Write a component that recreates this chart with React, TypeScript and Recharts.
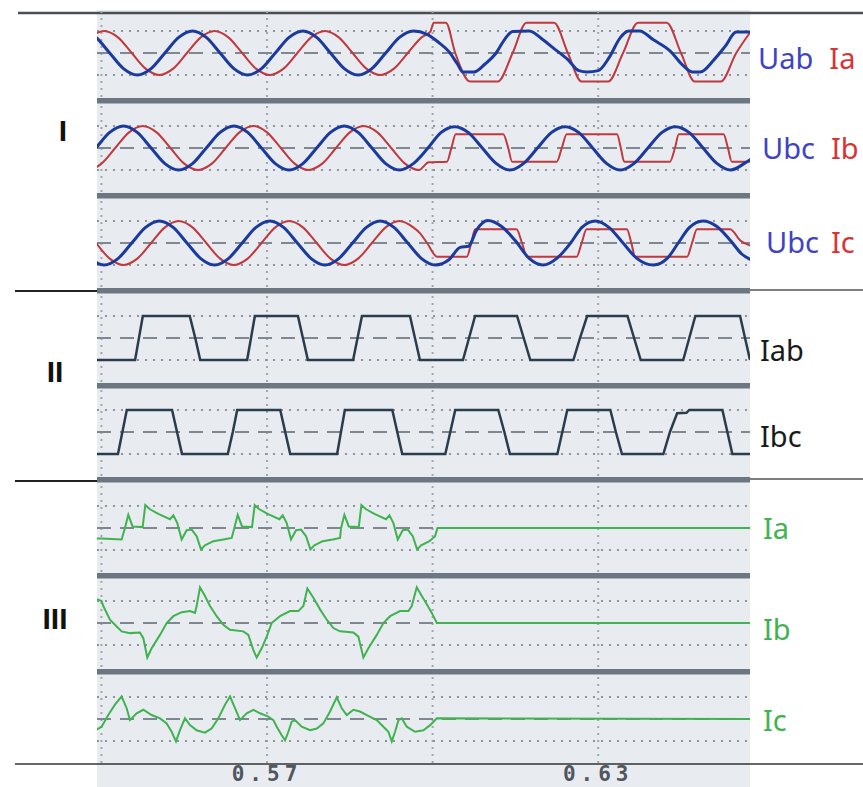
import { LineChart, Line, XAxis, YAxis, ReferenceLine } from "recharts";

// time in ms, values in per-unit (±1 = dotted grid line)
const T_DOMAIN: [number, number] = [539.2, 657.5];
const GRID_T = [540, 570, 600, 630];
const AXIS_TICKS = [570, 630];

type Pt = [number, number];

// ---- panel I ----
const uab: Pt[] = [
  [536.5, 1], [539, 0.71], [541.5, 0], [544, -0.71], [546.5, -1], [549, -0.71], [551.5, 0], [554, 0.71],
  [556.5, 1], [559, 0.71], [561.5, 0], [564, -0.71], [566.5, -1], [569, -0.71], [571.5, 0], [574, 0.71],
  [576.5, 1], [579, 0.71], [581.5, 0], [584, -0.71], [586.5, -1], [589, -0.71], [591.5, 0], [594, 0.71],
  [596.5, 1], [599, 0.85], [601, 0.5], [603, 0.05], [604.5, -0.5], [605.5, -0.86], [607.5, -0.86],
  [609.5, -0.5], [611.5, 0], [613, 0.6], [614.5, 0.98], [617.5, 1], [620, 0.6], [622, 0.2], [624.5, -0.3],
  [626.5, -0.8], [628, -0.86], [630, -0.8], [632, -0.2], [634, 0.7], [635.5, 1], [637.5, 1], [640, 0.6],
  [643, 0.1], [645.5, -0.6], [647, -0.86], [648.5, -0.86], [651, -0.3], [653, 0.3], [655, 0.95], [658, 0.95],
];
const iaI: Pt[] = [
  [535.5, 0], [538, 0.71], [540.5, 1], [543, 0.71], [545.5, 0], [548, -0.71], [550.5, -1], [553, -0.71],
  [555.5, 0], [558, 0.71], [560.5, 1], [563, 0.71], [565.5, 0], [568, -0.71], [570.5, -1], [573, -0.71],
  [575.5, 0], [578, 0.71], [580.5, 1], [583, 0.71], [585.5, 0], [588, -0.71], [590.5, -1], [593, -0.71],
  [595.5, 0], [598, 0.71], [599.6, 0.97], [600.2, 1.38], [602.4, 1.38], [604.1, 0], [606.8, -1.3],
  [611.8, -1.3], [614.5, 0], [617, 1.38], [622, 1.38], [624.5, 0], [627, -1.3], [631.8, -1.3], [634.5, 0],
  [637.2, 1.38], [642.4, 1.38], [645, 0], [647.5, -1.3], [652.2, -1.3], [655, 0], [658, 1.1],
];
const ubc: Pt[] = [
  [536.5, -0.71], [539, 0], [541.5, 0.71], [544, 1], [546.5, 0.71], [549, 0], [551.5, -0.71], [554, -1],
  [556.5, -0.71], [559, 0], [561.5, 0.71], [564, 1], [566.5, 0.71], [569, 0], [571.5, -0.71], [574, -1],
  [576.5, -0.71], [579, 0], [581.5, 0.71], [584, 1], [586.5, 0.71], [589, 0], [591.5, -0.71], [594, -1],
  [596.5, -0.71], [599, -0.05], [601.5, 0.7], [604, 0.97], [606.5, 0.7], [609, 0], [611.5, -0.7], [614, -1],
  [616.5, -0.7], [619, 0], [621.5, 0.7], [624, 0.97], [626.5, 0.7], [629, 0], [631.5, -0.7], [634, -1],
  [636.5, -0.7], [639, 0], [641.5, 0.7], [644, 0.97], [646.5, 0.7], [649, 0], [651.5, -0.7], [654, -1],
  [656.5, -0.7], [658, -0.45],
];
const ibI: Pt[] = [
  [535, -0.71], [537.5, -1], [540, -0.71], [542.5, 0], [545, 0.71], [547.5, 1], [550, 0.71], [552.5, 0],
  [555, -0.71], [557.5, -1], [560, -0.71], [562.5, 0], [565, 0.71], [567.5, 1], [570, 0.71], [572.5, 0],
  [575, -0.71], [577.5, -1], [580, -0.71], [582.5, 0], [585, 0.71], [587.5, 1], [590, 0.71], [592.5, 0],
  [595, -0.71], [597.5, -1], [599.3, -0.65], [602.6, -0.62], [603.4, 0], [604.2, 0.62], [612.8, 0.62],
  [613.7, 0], [614.4, -0.62], [622.5, -0.62], [623.4, 0], [624.3, 0.62], [633.4, 0.62], [634.1, 0],
  [634.7, -0.62], [643, -0.62], [643.9, 0], [644.6, 0.62], [652.7, 0.62], [653.5, 0], [654.2, -0.62],
  [658, -0.62],
];
const ubc3: Pt[] = [
  [535.5, 0], [538, -0.71], [540.5, -1], [543, -0.71], [545.5, 0], [548, 0.71], [550.5, 1], [553, 0.71],
  [555.5, 0], [558, -0.71], [560.5, -1], [563, -0.71], [565.5, 0], [568, 0.71], [570.5, 1], [573, 0.71],
  [575.5, 0], [578, -0.71], [580.5, -1], [583, -0.71], [585.5, 0], [588, 0.71], [590.5, 1], [593, 0.71],
  [595.5, 0], [598, -0.71], [600.5, -1], [603, -0.75], [605, -0.2], [606.5, -0.15], [608, 0.6], [610, 1.02],
  [612.5, 0.75], [615, 0.1], [617.5, -0.7], [620, -1], [622.5, -0.7], [625, 0], [627, 0.7], [629.5, 1],
  [632, 0.7], [634.5, 0], [637, -0.7], [640, -1], [642.5, -0.7], [644.5, 0], [646.5, 0.7], [649, 1],
  [651.5, 0.75], [654, 0.1], [656, -0.5], [658, -0.8],
];
const icI: Pt[] = [
  [534, 1], [536.5, 0.71], [539, 0], [541.5, -0.71], [544, -1], [546.5, -0.71], [549, 0], [551.5, 0.71],
  [554, 1], [556.5, 0.71], [559, 0], [561.5, -0.71], [564, -1], [566.5, -0.71], [569, 0], [571.5, 0.71],
  [574, 1], [576.5, 0.71], [579, 0], [581.5, -0.71], [584, -1], [586.5, -0.71], [589, 0], [591.5, 0.71],
  [594, 1], [596.5, 0.71], [597.7, 0.45], [599, 0], [600.8, -0.62], [606.2, -0.62], [607, 0], [607.7, 0.62],
  [615.2, 0.62], [616.2, 0], [617.1, -0.62], [626.1, -0.62], [627, 0], [627.9, 0.62], [635.2, 0.62],
  [636, 0], [636.7, -0.62], [646.1, -0.62], [647, 0], [647.9, 0.62], [653.9, 0.62], [655.8, 0.1],
  [658, -0.15],
];

// ---- panel II ----
const iab: Pt[] = [
  [539, -1], [546.1, -1], [546.8, 0], [547.5, 1], [556, 1], [557, 0], [557.9, -1], [566.4, -1], [567.1, 0],
  [567.8, 1], [575.6, 1], [576.5, 0], [577.4, -1], [585.6, -1], [586.4, 0], [587.2, 1], [595.9, 1],
  [596.8, 0], [597.7, -1], [605.5, -1], [606.6, 0], [607.7, 1], [615.3, 1], [616.5, 0], [617.7, -1],
  [625.5, -1], [626.7, 0], [628, 1], [635.3, 1], [636.5, 0], [637.7, -1], [645.4, -1], [646.5, 0],
  [647.6, 1], [655.7, 1], [656.6, 0], [657.5, -1],
];
const ibc: Pt[] = [
  [539, -1], [543, -1], [543.8, 0], [544.6, 1], [552.8, 1], [553.7, 0], [554.6, -1], [562.9, -1],
  [563.8, 0], [564.6, 1], [572.4, 1], [573.3, 0], [574.2, -1], [582.7, -1], [583.4, 0], [584.1, 1],
  [592.7, 1], [593.6, 0], [594.5, -1], [602.3, -1], [603.2, 0], [604.1, 1], [611.9, 1], [613, 0],
  [614, -1], [622.6, -1], [623.5, 0], [624.4, 1], [632.2, 1], [633.2, 0], [634.3, -1], [641.8, -1],
  [643, 0], [644.3, 0.85], [646, 0.87], [646.5, 1], [652.5, 1], [653.4, 0], [654.3, -1], [657.5, -1],
];

// ---- panel III ----
const iaIII: Pt[] = [
  [539, -0.48], [540.03, -0.48], [543.66, -0.52], [544.26, 0], [544.87, 0.6], [545.65, 0.07], [547.47, 0.04],
  [547.95, 1.04], [548.8, 0.85], [550.31, 0.64], [552.42, 0.4], [553.03, 0.58], [553.75, 0.22],
  [554.54, -0.52], [555.44, -0.1], [556.35, -0.07], [557.25, -0.37], [558.04, -0.97], [558.76, -0.79],
  [560.28, -0.6], [562.09, -0.52], [563.6, -0.45], [564.08, 0], [564.69, 0.6], [565.47, 0.07],
  [567.28, 0.04], [567.77, 1.04], [568.61, 0.85], [570.12, 0.64], [572.24, 0.4], [572.84, 0.58],
  [573.57, 0.22], [574.35, -0.52], [575.26, -0.1], [576.16, -0.07], [577.07, -0.37], [577.86, -0.97],
  [578.58, -0.79], [580.09, -0.6], [581.9, -0.52], [583.23, -0.45], [583.42, 0], [584.02, 0.6],
  [584.81, 0.07], [586.62, 0.04], [587.1, 1.04], [587.95, 0.85], [589.46, 0.64], [591.57, 0.4],
  [592.18, 0.58], [592.9, 0.22], [593.69, -0.52], [594.59, -0.1], [595.5, -0.07], [596.41, -0.37],
  [597.19, -0.97], [597.92, -0.79], [599.43, -0.6], [600.45, -0.37], [600.88, 0], [658, 0],
];
const ibIII: Pt[] = [
  [539, 1.1], [540.03, 1.0], [540.34, 0.77], [541.55, 0.15], [542.45, -0.08], [543.66, -0.38],
  [545.17, -0.46], [546.98, -0.43], [547.59, -0.69], [548.31, -1.57], [549.1, -1.15], [550.61, -0.54],
  [551.82, 0], [553.03, 0.31], [554.54, 0.49], [556.05, 0.54], [556.95, 0.46], [557.25, 0.77],
  [557.86, 1.62], [558.76, 1.23], [559.67, 0.77], [560.88, 0.31], [562.09, -0.08], [563.3, -0.31],
  [565.71, -0.38], [566.62, -0.54], [567.53, -1.23], [568.13, -1.57], [569.04, -1.15], [569.94, -0.62],
  [570.85, 0], [572.36, 0.31], [574.17, 0.54], [575.68, 0.54], [576.59, 0.77], [577.31, 1.57],
  [578.4, 1.15], [579.61, 0.62], [580.82, 0.15], [582.03, -0.23], [583.23, -0.38], [585.65, -0.43],
  [586.55, -0.62], [587.46, -1.57], [588.37, -1.15], [589.88, -0.54], [591.09, 0], [592.3, 0.31],
  [594.11, 0.54], [595.62, 0.54], [596.22, 0.77], [597.13, 1.62], [598.04, 1.23], [598.95, 0.85],
  [599.85, 0.46], [600.76, 0], [658, 0],
];
const icIII: Pt[] = [
  [539, -0.5], [540.03, -0.35], [541.24, 0.18], [542.45, 0.65], [543.66, 1.03], [544.57, 0.49],
  [545.17, -0.05], [546.38, 0.26], [547.59, 0.42], [549.1, 0.18], [550.61, 0.03], [551.82, -0.2],
  [552.72, -0.58], [553.51, -1.02], [554.23, -0.51], [555.14, 0.03], [556.05, -0.28], [557.25, -0.51],
  [558.76, -0.62], [559.97, -0.43], [561.18, 0.03], [562.39, 0.65], [563.3, 1.03], [564.2, 0.49],
  [565.11, -0.05], [566.32, 0.26], [567.53, 0.42], [568.73, 0.26], [570.24, 0.11], [571.15, -0.05],
  [571.76, -0.35], [572.66, -0.74], [573.27, -0.97], [573.87, -0.58], [574.47, -0.12], [575.08, -0.05],
  [576.29, -0.35], [577.8, -0.51], [579.01, -0.43], [580.21, -0.2], [581.42, 0.34], [582.63, 0.98],
  [583.54, 0.49], [584.45, 0.18], [585.65, 0.42], [586.86, 0.34], [588.07, 0.18], [589.88, -0.05],
  [591.09, -0.35], [591.99, -0.58], [592.6, -1.02], [593.2, -0.58], [593.81, -0.05], [594.41, 0.03],
  [595.32, -0.35], [596.83, -0.58], [598.34, -0.51], [599.55, -0.28], [600.76, 0.03], [658, 0],
];

const BLUE = "#1b3a9e";
const RED = "#c0393f";
const SLATE = "#2b3c4c";
const GREEN = "#3fb34f";

type Trace = { key: string; points: Pt[]; color: string; width: number; curve: "monotone" | "linear" };

const channels: { center: number; traces: Trace[] }[] = [
  { center: 53, traces: [
    { key: "ia", points: iaI, color: RED, width: 2, curve: "monotone" },
    { key: "uab", points: uab, color: BLUE, width: 3, curve: "monotone" },
  ] },
  { center: 148, traces: [
    { key: "ib", points: ibI, color: RED, width: 2, curve: "monotone" },
    { key: "ubc", points: ubc, color: BLUE, width: 3, curve: "monotone" },
  ] },
  { center: 243, traces: [
    { key: "ic", points: icI, color: RED, width: 2, curve: "monotone" },
    { key: "ubc3", points: ubc3, color: BLUE, width: 3, curve: "monotone" },
  ] },
  { center: 338, traces: [{ key: "iab", points: iab, color: SLATE, width: 2.5, curve: "linear" }] },
  { center: 432, traces: [{ key: "ibc", points: ibc, color: SLATE, width: 2.5, curve: "linear" }] },
  { center: 528, traces: [{ key: "ia3", points: iaIII, color: GREEN, width: 2, curve: "linear" }] },
  { center: 623, traces: [{ key: "ib3", points: ibIII, color: GREEN, width: 2, curve: "linear" }] },
  { center: 719, traces: [{ key: "ic3", points: icIII, color: GREEN, width: 2, curve: "linear" }] },
];

const PLOT_X = 97;
const PLOT_W = 653;
const HALF = 44;

function buildRows(traces: Trace[]) {
  const rows: Record<string, number>[] = [];
  traces.forEach((tr) => tr.points.forEach(([t, v]) => rows.push({ t, [tr.key]: v })));
  rows.sort((a, b) => a.t - b.t);
  return rows;
}

function Channel({ center, traces, showAxis }: { center: number; traces: Trace[]; showAxis: boolean }) {
  const h = HALF * 2 + (showAxis ? 24 : 0);
  return (
    <div style={{ position: "absolute", left: PLOT_X, top: center - HALF, width: PLOT_W, height: h }}>
      <LineChart width={PLOT_W} height={h} data={buildRows(traces)} margin={{ top: 0, right: 0, bottom: 0, left: 0 }}>
        <XAxis
          dataKey="t"
          type="number"
          domain={T_DOMAIN}
          allowDataOverflow
          hide={!showAxis}
          ticks={AXIS_TICKS}
          interval={0}
          height={24}
          axisLine={false}
          tickLine={false}
          tickSize={0}
          tickMargin={3}
          tickFormatter={(v: number) => (v / 1000).toFixed(2)}
          tick={{ fontFamily: "DejaVu Sans Mono", fontSize: 21, fontWeight: "bold", fill: "#50565d", letterSpacing: 5 }}
        />
        <YAxis hide domain={[-2, 2]} allowDataOverflow />
        {GRID_T.map((t) => (
          <ReferenceLine key={t} x={t} stroke="#a0a7ae" strokeWidth={2} strokeDasharray="2 5" />
        ))}
        <ReferenceLine y={1} stroke="#8c939b" strokeWidth={2} strokeDasharray="2 6" />
        <ReferenceLine y={-1} stroke="#8c939b" strokeWidth={2} strokeDasharray="2 6" />
        <ReferenceLine y={0} stroke="#7f8890" strokeWidth={2} strokeDasharray="14 9" />
        {traces.map((tr) => (
          <Line
            key={tr.key}
            dataKey={tr.key}
            type={tr.curve}
            stroke={tr.color}
            strokeWidth={tr.width}
            dot={false}
            connectNulls
            isAnimationActive={false}
          />
        ))}
      </LineChart>
    </div>
  );
}

const BARS = [98, 193, 288, 383, 477, 573, 669];

const rightLabels = [
  { x: 758, y: 69, gap: 16, parts: [["Uab", "#4043c4"], ["Ia", "#d93434"]] },
  { x: 762, y: 159, gap: 16, parts: [["Ubc", "#4043c4"], ["Ib", "#d93434"]] },
  { x: 766, y: 253, gap: 12, parts: [["Ubc", "#4043c4"], ["Ic", "#d93434"]] },
  { x: 760, y: 361, gap: 0, parts: [["Iab", "#1a1a1a"]] },
  { x: 760, y: 447, gap: 0, parts: [["Ibc", "#1a1a1a"]] },
  { x: 763, y: 539, gap: 0, parts: [["Ia", "#3fb34f"]] },
  { x: 763, y: 640, gap: 0, parts: [["Ib", "#3fb34f"]] },
  { x: 763, y: 731, gap: 0, parts: [["Ic", "#3fb34f"]] },
];

export default function App() {
  return (
    <div style={{ position: "absolute", left: 0, top: 0, width: 863, height: 787, background: "#fff", overflow: "hidden" }}>
      <svg width={863} height={787} style={{ position: "absolute", left: 0, top: 0 }}>
        <rect x={PLOT_X} y={10} width={PLOT_W} height={777} fill="#e8ebf0" />
        <line x1={18} y1={13} x2={863} y2={13} stroke="#4a4f55" strokeWidth={2.5} />
        <line x1={15} y1={291} x2={PLOT_X} y2={291} stroke="#222" strokeWidth={2} />
        <line x1={750} y1={290} x2={863} y2={290} stroke="#555" strokeWidth={1.5} />
        <line x1={15} y1={481} x2={PLOT_X} y2={481} stroke="#222" strokeWidth={2} />
        <line x1={750} y1={479} x2={863} y2={479} stroke="#555" strokeWidth={1.5} />
        <line x1={15} y1={764} x2={863} y2={764} stroke="#333" strokeWidth={1.5} />
        {BARS.map((y) => (
          <g key={y}>
            <rect x={PLOT_X} y={y} width={PLOT_W} height={5} fill="#6c7781" />
            <rect x={PLOT_X} y={y + 5} width={PLOT_W} height={1} fill="#aab2b9" />
          </g>
        ))}
        <g fontFamily="'Noto Sans', sans-serif" fontSize={29}>
          {rightLabels.map((l, i) => (
            <text key={i} x={l.x} y={l.y}>
              {l.parts.map(([s, c], j) => (
                <tspan key={j} fill={c} dx={j > 0 ? l.gap : 0}>{s}</tspan>
              ))}
            </text>
          ))}
        </g>
        <g fontFamily="'Liberation Sans', Arial, sans-serif" fontSize={30} fontWeight="bold" fill="#111" textAnchor="middle">
          <text x={63} y={141}>I</text>
          <text x={55} y={382}>II</text>
          <text x={55} y={629}>III</text>
        </g>
      </svg>
      {channels.map((c, i) => (
        <Channel key={i} center={c.center} traces={c.traces} showAxis={i === channels.length - 1} />
      ))}
    </div>
  );
}
